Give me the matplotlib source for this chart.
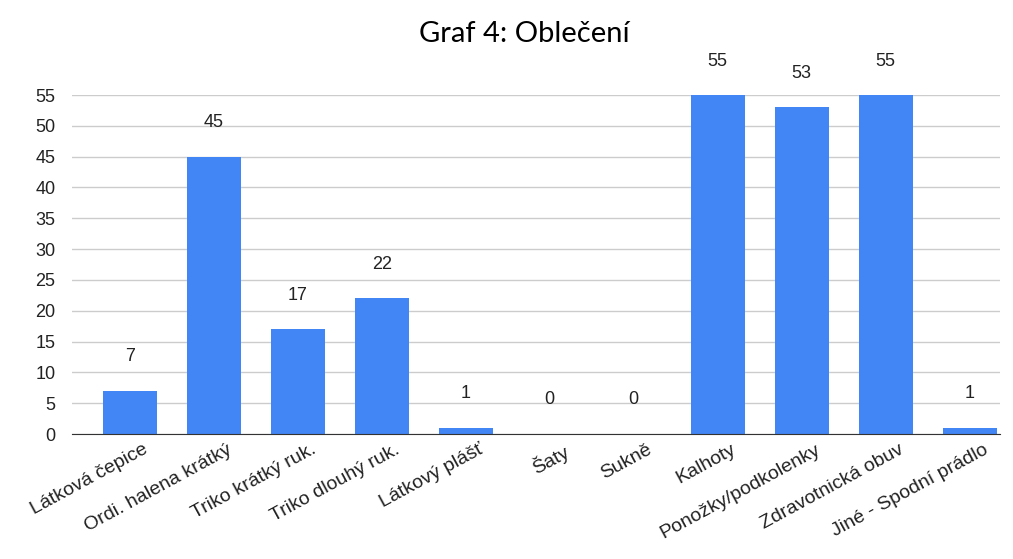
import numpy as np
import matplotlib.pyplot as plt
import matplotlib.transforms as mtransforms

categories = ["Látková čepice", "Ordi. halena krátký", "Triko krátký ruk.",
              "Triko dlouhý ruk.", "Látkový plášť", "Šaty", "Sukně", "Kalhoty",
              "Ponožky/podkolenky", "Zdravotnická obuv", "Jiné - Spodní prádlo"]
values = [7, 45, 17, 22, 1, 0, 0, 55, 53, 55, 1]
yticks = [0, 5, 10, 15, 20, 25, 30, 35, 40, 45, 50, 55]

plt.rcParams['font.family'] = ['Liberation Sans', 'DejaVu Sans']

fig = plt.figure(figsize=(10.13, 5.59), dpi=100)
ax = fig.add_axes([0.071, 0.2236, 0.916, 0.6064])

x = np.arange(len(categories))
ax.bar(x, values, width=0.643, color="#4285f4", zorder=3)

for xi, v in zip(x, values):
    ax.annotate(str(v), (xi, v), xytext=(0, 24.5), textcoords="offset points",
                ha="center", va="center", fontsize=13, color="#222222",
                annotation_clip=False)

ax.set_xlim(-0.69, 10.36)
ax.set_ylim(0, 55)
ax.set_yticks(yticks)
ax.set_yticklabels([str(t) for t in yticks], fontsize=13, color="#222222")
ax.yaxis.grid(True, color="#cccccc", linewidth=1, zorder=0)
ax.tick_params(axis="y", length=0, pad=12)
ax.tick_params(axis="x", length=0, pad=5)

ax.set_xticks(x)
ax.set_xticklabels(categories, rotation=28.5, ha="right", rotation_mode="anchor",
                   fontsize=14, color="#222222")
shift = mtransforms.ScaledTranslation(13 / 100, 0, fig.dpi_scale_trans)
for lbl in ax.get_xticklabels():
    lbl.set_transform(lbl.get_transform() + shift)

for side in ["top", "right", "left"]:
    ax.spines[side].set_visible(False)
ax.spines["bottom"].set_color("#333333")
ax.spines["bottom"].set_zorder(4)

fig.text(0.518, 0.94, "Graf 4: Oblečení", ha="center", va="center",
         fontsize=21, family=["Lato", "DejaVu Sans"])

fig.savefig("out.png", dpi=100)
